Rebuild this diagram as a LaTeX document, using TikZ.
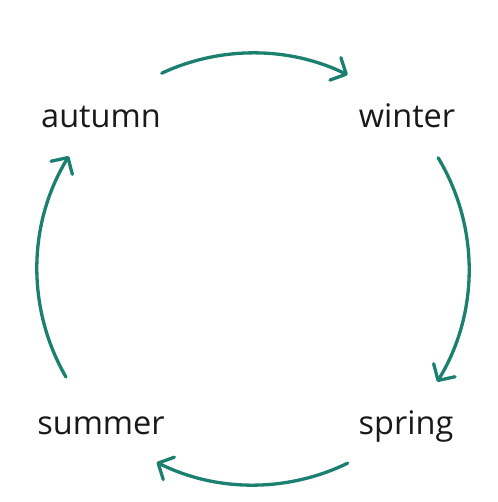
\documentclass[tikz,border=0pt]{standalone}
\usepackage{fontspec}
\setmainfont{Open Sans}
\usetikzlibrary{arrows.meta,calc}
\definecolor{teal1}{HTML}{1B8070}
\tikzset{
  season/.style={anchor=base, inner sep=0pt, font=\fontsize{32.5}{38}\selectfont, text=black!90},
  cyc/.style={draw=teal1, line width=3.3pt, line cap=round, -{Straight Barb[length=12pt,width=25pt,round]}}
}
\begin{document}
\begin{tikzpicture}[x=1pt,y=-1pt]
\useasboundingbox (0,0) rectangle (497,502);
\node[season] (autumn) at (101,128) {autumn};
\node[season] (winter) at (407,128) {winter};
\node[season] (summer) at (101,434) {summer};
\node[season] (spring) at (406,434) {spring};
\coordinate (c) at (253,269);
\coordinate (topS) at ($(c)+(-115:216)$);
\coordinate (rightS) at ($(c)+(-31:216)$);
\coordinate (botS) at ($(c)+(64:216)$);
\coordinate (leftS) at ($(c)+(150:216)$);
\draw[cyc] (topS) arc[start angle=-115, end angle=-64, radius=216];
\draw[cyc] (rightS) arc[start angle=-31, end angle=31.5, radius=216];
\draw[cyc] (botS) arc[start angle=64, end angle=116.5, radius=216];
\draw[cyc] (leftS) arc[start angle=150, end angle=211.5, radius=216];
\end{tikzpicture}
\end{document}
